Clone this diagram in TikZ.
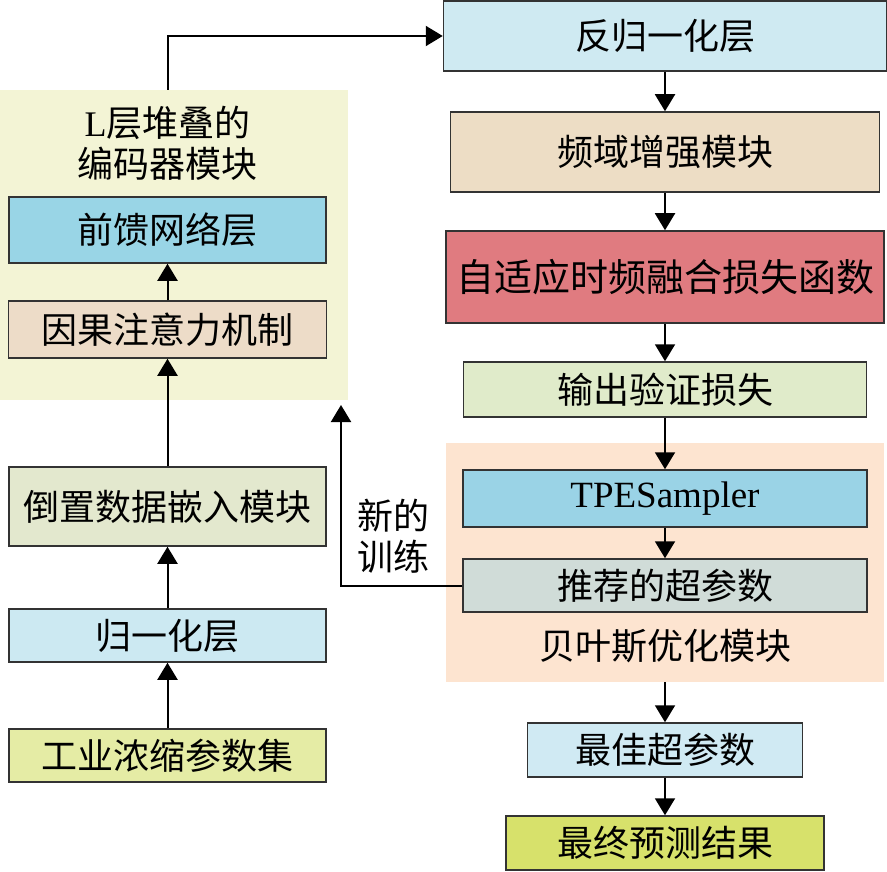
\documentclass[tikz,border=0pt]{standalone}
\usepackage{fontspec}
\setmainfont{Liberation Serif}
\newfontfamily\cjk{Noto Sans CJK SC}
\usetikzlibrary{arrows.meta}
\definecolor{grpY}{HTML}{F3F4D5}
\definecolor{grpO}{HTML}{FDE4D0}
\definecolor{cFfn}{HTML}{99D5E6}
\definecolor{cAttn}{HTML}{EDDCC8}
\definecolor{cEmb}{HTML}{E3E8CE}
\definecolor{cNorm}{HTML}{CCE9F2}
\definecolor{cData}{HTML}{E5ECA5}
\definecolor{cDenorm}{HTML}{CFEAF2}
\definecolor{cFreq}{HTML}{EDDDC5}
\definecolor{cLoss}{HTML}{E07B80}
\definecolor{cVal}{HTML}{E0EBCA}
\definecolor{cTpe}{HTML}{9AD3E6}
\definecolor{cRec}{HTML}{D0DCD8}
\definecolor{cBest}{HTML}{D0EAF3}
\definecolor{cFinal}{HTML}{D7E16B}
\definecolor{edge}{HTML}{333333}
\tikzset{
  box/.style={draw=edge, line width=1.5pt, rectangle, inner sep=0pt, font=\fontsize{36}{41}\selectfont\cjk},
  grp/.style={rectangle, inner sep=0pt, draw=none},
  arr/.style={line width=2pt, -{Triangle[width=20pt,length=17pt]}},
  lbl/.style={inner sep=0pt, align=center, font=\fontsize{36}{41}\selectfont\cjk}
}
\begin{document}
\begin{tikzpicture}[x=1pt,y=-1pt]
\useasboundingbox (0,0) rectangle (887,872);
% groups
\node[grp, fill=grpY, minimum width=348pt, minimum height=310pt] (enc) at (174,245) {};
\node[grp, fill=grpO, minimum width=438pt, minimum height=239pt] (bayes) at (665,562.5) {};
% titles
\node[lbl] (enctitle) at (167.5,143) {{\rmfamily L}层堆叠的\\编码器模块};
\node[lbl] (bayestitle) at (665,646) {贝叶斯优化模块};
\node[lbl] (newtrain) at (393,536) {新的\\训练};
% left column
\node[box, fill=cFfn,  minimum width=317pt, minimum height=66pt] (ffn)   at (167.5,230) {前馈网络层};
\node[box, fill=cAttn, minimum width=318pt, minimum height=57pt] (attn)  at (167.5,329.5) {因果注意力机制};
\node[box, fill=cEmb,  minimum width=317pt, minimum height=79pt] (emb)   at (167.5,506.5) {倒置数据嵌入模块};
\node[box, fill=cNorm, minimum width=317pt, minimum height=53pt] (norm)  at (167.5,635.5) {归一化层};
\node[box, fill=cData, minimum width=317pt, minimum height=53pt] (data)  at (167.5,755.5) {工业浓缩参数集};
% right column
\node[box, fill=cDenorm, minimum width=443pt, minimum height=70pt] (denorm) at (665,36) {反归一化层};
\node[box, fill=cFreq,   minimum width=429pt, minimum height=80pt] (freq)   at (665,152) {频域增强模块};
\node[box, fill=cLoss,   minimum width=438pt, minimum height=92pt, font=\fontsize{38}{41}\selectfont\cjk] (loss) at (665,277) {自适应时频融合损失函数};
\node[box, fill=cVal,    minimum width=403pt, minimum height=55pt] (val)    at (665,389.5) {输出验证损失};
\node[box, fill=cTpe,    minimum width=404pt, minimum height=57pt, font=\fontsize{37}{41}\selectfont\rmfamily] (tpe) at (665,498.5) {TPESampler};
\node[box, fill=cRec,    minimum width=404pt, minimum height=53pt] (rec)    at (665,585.5) {推荐的超参数};
\node[box, fill=cBest,   minimum width=275pt, minimum height=54pt] (best)   at (665,750) {最佳超参数};
\node[box, fill=cFinal,  minimum width=318pt, minimum height=54pt] (final)  at (665,843) {最终预测结果};
\coordinate (fb) at (341,405);
% arrows left
\draw[arr] (data) -- (norm);
\draw[arr] (norm) -- (emb);
\draw[arr] (emb) -- (attn);
\draw[arr] (attn) -- (ffn);
\draw[arr] (ffn.north |- enc.north) |- (denorm.west);
% arrows right
\draw[arr] (denorm) -- (freq);
\draw[arr] (freq) -- (loss);
\draw[arr] (loss) -- (val);
\draw[arr] (val) -- (tpe);
\draw[arr] (tpe) -- (rec);
\draw[arr] (bayes.south -| best) -- (best);
\draw[arr] (best) -- (final);
\draw[arr] (rec.west) -| (fb);
\end{tikzpicture}
\end{document}
